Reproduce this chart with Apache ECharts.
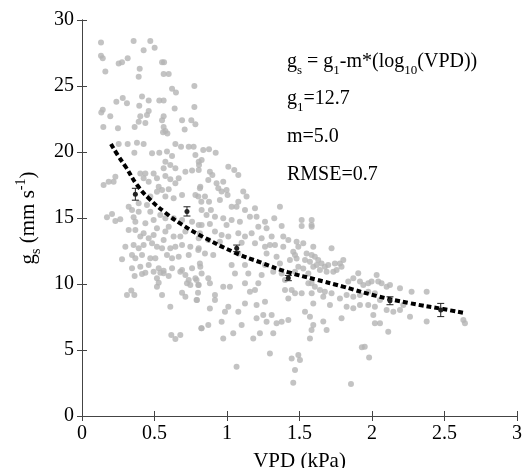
<!DOCTYPE html>
<html><head><meta charset="utf-8">
<script src="https://cdn.jsdelivr.net/npm/echarts@6/dist/echarts.min.js"></script>
<style>html,body{margin:0;padding:0;background:#fff}#c{width:524px;height:468px}</style>
</head><body><div id="c"></div>
<script>
// Observed data points [VPD (kPa), gs (mm s-1)]
const scatterPoints = [
[0.131,28.3],[0.356,28.4],[0.471,28.4],[0.425,27.7],[0.501,27.9],[0.131,27.3],[0.143,27.1],[0.253,26.7],[0.276,26.8],[0.315,27.1],[0.552,26.8],[0.566,26.8],[0.398,26.3],[0.161,26.1],[0.391,25.7],[0.563,25.9],[0.598,25.9],[0.621,24.8],[0.648,24.5],[0.775,25.0],[0.281,24.1],[0.237,23.8],[0.310,23.7],[0.414,24.2],[0.460,23.9],[0.533,23.9],[0.563,23.9],[0.395,23.5],[0.143,23.2],[0.133,23.0],[0.195,22.7],[0.639,23.3],[0.775,23.4],[0.460,23.1],[0.448,22.8],[0.402,22.7],[0.391,22.3],[0.437,22.2],[0.563,22.7],[0.552,22.4],[0.690,22.4],[0.754,22.4],[0.782,22.1],[0.147,21.9],[0.248,21.8],[0.363,21.9],[0.563,21.9],[0.575,21.6],[0.559,21.5],[0.589,21.4],[0.708,21.7],[0.253,20.6],[0.315,20.6],[0.379,20.7],[0.425,20.6],[0.644,20.6],[0.683,20.4],[0.736,20.4],[0.770,20.4],
[0.361,19.95],[0.483,19.9],[0.533,19.95],[0.586,20.03],[0.621,19.7],[0.782,19.77],[0.805,19.27],[0.575,19.27],[0.609,19.02],[0.563,18.76],[0.644,18.76],[0.713,18.51],[0.759,18.59],[0.805,18.64],[0.23,18.13],[0.218,17.75],[0.184,17.75],[0.149,17.5],[0.402,18.38],[0.437,18.38],[0.494,18.38],[0.425,18.01],[0.46,17.75],[0.517,18.01],[0.575,18.18],[0.609,17.93],[0.667,18.01],[0.644,17.63],[0.529,17.37],[0.552,17.12],[0.598,17.17],[0.517,16.99],[0.471,16.62],[0.575,16.62],[0.632,16.49],[0.69,16.74],[0.782,16.74],[0.816,17.37],[0.823,16.24],[0.322,15.86],[0.448,15.99],[0.391,16.11],[0.172,15.05],[0.207,15.3],[0.23,14.77],[0.264,14.9],[0.345,15.61],[0.356,15.05],[0.391,15.48],[0.471,15.48],[0.494,14.85],[0.437,14.6],[0.54,15.23],[0.575,14.98],[0.598,14.34],[0.632,14.98],[0.69,14.85],[0.759,14.72],[0.805,14.47],[0.368,14.72],[0.322,14.09],[0.368,14.09],[0.402,13.59],[0.425,13.84],[0.46,13.46],[0.494,13.71],[0.517,14.22],[0.575,13.97],[0.563,13.33],[0.632,13.59],[0.678,13.59],[0.713,13.97],[0.805,13.46],[0.299,12.83],[0.356,12.96],[0.391,12.7],[0.425,12.96],[0.483,13.08],[0.517,12.83],[0.552,12.7],[0.609,12.7],[0.644,12.83],[0.69,12.96],[0.747,12.83],[0.805,12.7],[0.345,12.2],[0.368,11.95],[0.414,12.2],[0.471,11.95],[0.506,11.95],[0.586,12.2],[0.621,11.95],[0.667,12.07],[0.736,12.2],[0.276,11.87],[0.345,11.19],[0.402,11.31],[0.46,11.44],[0.529,11.19],[0.563,11.01],[0.621,11.19],[0.69,11.06],[0.759,11.19],[0.816,11.31],
[0.363,10.61],[0.414,10.76],[0.437,10.86],[0.494,10.93],[0.54,10.86],[0.563,10.81],[0.598,10.61],[0.517,10.43],[0.529,10.1],[0.517,9.8],[0.552,9.17],[0.678,10.93],[0.713,10.68],[0.736,10.3],[0.724,10.05],[0.747,9.92],[0.805,9.92],[0.782,10.43],[0.8,9.34],[0.793,8.79],[0.69,9.34],[0.713,9.04],[0.609,8.28],[0.31,9.17],[0.34,9.5],[0.361,9.17],[0.616,6.14],[0.644,5.83],[0.678,6.14],[0.823,6.64],
[0.836,20.15],[0.876,20.2],[0.922,19.95],[0.825,19.39],[0.807,19.02],[0.882,18.51],[0.899,18.26],[0.871,17.88],[0.928,17.63],[0.974,17.75],[1.009,18.89],[1.05,18.64],[1.078,18.26],[0.94,17.25],[0.963,17.0],[0.997,17.12],[1.004,16.74],[0.951,16.36],[0.813,17.25],[0.802,16.62],[0.848,16.62],[0.876,16.24],[0.825,15.61],[0.889,15.61],[0.859,15.23],[0.917,15.1],[0.974,14.98],[1.032,15.86],[1.066,15.86],[1.112,17.0],[1.135,16.62],[1.078,16.24],[1.124,15.61],[1.193,15.73],[1.365,15.86],[1.032,14.85],[1.089,14.72],[0.825,14.47],[0.882,14.55],[0.813,13.84],[0.997,14.47],[1.158,15.1],[1.204,15.1],[1.262,14.72],[1.326,14.98],[1.377,14.39],[1.216,14.34],[1.273,14.22],[1.388,13.59],[1.515,14.85],[1.515,14.39],[1.584,14.85],[1.584,14.34],[1.078,13.84],[1.124,13.59],[1.17,13.84],[1.239,13.46],[1.308,13.59],[1.423,13.33],[1.48,13.21],[1.526,13.08],[1.595,12.83],[0.917,13.97],[0.963,13.71],[1.009,13.59],[0.871,13.33],[0.951,13.21],[1.101,13.13],[1.193,13.08],[1.262,12.83],[1.331,12.96],
[0.802,12.57],[0.848,12.32],[0.905,12.19],[0.813,11.56],[0.825,10.8],[0.79,10.3],[0.802,9.92],[0.871,10.43],[0.882,10.05],[0.79,8.78],[0.917,9.16],[0.917,8.78],[0.882,8.15],[0.974,9.8],[1.02,9.8],[1.032,11.44],[1.055,10.8],[1.078,12.32],[1.124,11.44],[1.147,10.8],[1.124,10.05],[1.158,9.42],[1.193,9.54],[1.216,10.05],[1.239,10.68],[1.262,11.44],[1.273,12.32],[1.296,12.95],[1.388,12.82],[1.342,12.07],[1.365,11.56],[1.319,10.93],[1.377,10.8],[1.4,10.3],[1.469,12.19],[1.492,12.82],[1.538,11.81],[1.572,11.69],[1.492,11.31],[1.561,10.05],[1.4,9.54],[1.446,9.54],[1.423,8.91],[1.469,9.29],[1.515,9.29],[1.584,9.29],[1.124,8.53],[1.204,8.4],[1.262,8.66],[1.009,8.28],[0.986,7.9],[1.078,7.9],[1.204,7.4],[1.25,7.65],[1.273,7.14],[1.308,7.65],[1.342,7.02],[1.377,7.14],[1.423,7.27],[1.538,7.9],[1.572,7.52],[1.595,6.89],[0.825,6.64],[0.871,6.89],[0.963,7.14],[0.974,5.88],[1.043,6.26],[1.101,6.89],[1.181,5.88],[1.227,6.26],[1.319,6.26],[1.296,4.74],[1.066,3.73],[1.446,4.36],[1.492,4.62],[1.503,4.24],[1.469,3.48],[1.457,2.52],[1.572,5.88],
[1.457,12.45],[1.48,11.94],[1.549,12.32],[1.584,12.19],[1.595,11.31],[1.526,11.18],[1.561,10.8],[1.469,10.93],[1.434,11.81],
[1.583,14.47],[1.721,12.7],[1.606,12.07],[1.629,11.82],[1.652,11.56],[1.675,11.31],[1.618,11.44],[1.641,11.06],[1.687,10.93],[1.698,11.44],[1.744,11.56],[1.779,11.56],[1.79,11.31],[1.802,11.82],[1.756,11.06],[1.733,10.93],[1.583,10.05],[1.606,9.8],[1.641,9.55],[1.675,9.42],[1.721,9.29],[1.664,9.04],[1.595,8.53],[1.71,8.41],[1.779,8.91],[1.825,9.17],[1.836,10.18],[1.871,10.43],[1.905,10.81],[1.917,10.18],[1.94,9.92],[1.974,10.05],[1.997,10.18],[2.032,10.68],[2.043,10.18],[2.066,10.05],[2.101,9.8],[2.124,9.92],[2.193,9.67],[2.273,9.42],[2.377,9.42],[1.871,9.04],[1.917,9.17],[1.974,9.42],[2.02,9.29],[2.055,8.79],[1.825,8.28],[1.871,8.16],[1.917,8.41],[1.974,8.41],[2.02,8.28],[2.101,8.03],[2.147,7.9],[2.193,8.03],[2.216,8.41],[2.262,7.52],[2.377,7.15],[2.009,7.65],[2.02,7.02],[2.055,7.02],[2.112,6.39],[1.79,7.4],[1.664,7.15],[1.687,6.51],[1.583,6.51],[2.63,7.27],[2.641,7.02],
[1.93,5.2],[1.95,5.25],[1.98,4.44],[1.855,2.42]
];

// Fitted curve
const curveX = [0.20,0.25,0.30,0.38,0.46,0.575,0.69,0.83,1.05,1.24,1.42,1.61,1.80,2.03,2.26,2.49,2.64];
const curveY = [20.6,19.7,18.9,17.5,16.5,15.4,14.5,13.6,12.4,11.6,10.9,10.35,9.8,9.1,8.55,8.1,7.8];

// Binned means with error bars
const errX = [0.368,0.724,1.067,1.423,2.124,2.474];
const errMean = [16.8,15.5,12.7,10.45,8.73,8.03];
const errHalf = [0.45,0.35,0.25,0.2,0.3,0.5];

const xMin = 0, xMax = 3, xInterval = 0.5;
const yMin = 0, yMax = 30, yInterval = 5;

const FONT = '"Liberation Serif", "Times New Roman", serif';
const axisColor = '#444';

const chart = echarts.init(document.getElementById('c'), null, {renderer: 'canvas'});

function axisBase(extra) {
  return Object.assign({
    type: 'value',
    axisLine: {show: true, lineStyle: {color: axisColor, width: 1}},
    axisTick: {show: true, inside: true, length: 5, lineStyle: {color: axisColor}},
    splitLine: {show: false}
  }, extra);
}

const subStyle = {fontSize: 13, fontFamily: FONT, color: '#000', padding: [17, 0, 0, 0]};

chart.setOption({
  animation: false,
  backgroundColor: '#fff',
  grid: {left: 82, right: 7, top: 20, bottom: 52, containLabel: false, outerBoundsMode: 'none'},
  xAxis: [
    axisBase({min: xMin, max: xMax, interval: xInterval, position: 'bottom',
      name: 'VPD (kPa)', nameLocation: 'middle', nameGap: 35,
      nameTextStyle: {fontSize: 21, fontFamily: FONT, color: '#000'},
      axisLabel: {fontSize: 20, fontFamily: FONT, color: '#000', margin: 8}}),
    axisBase({min: xMin, max: xMax, interval: xInterval, position: 'top', axisLabel: {show: false}})
  ],
  yAxis: [
    axisBase({min: yMin, max: yMax, interval: yInterval, position: 'left',
      name: 'g{sub|s} (mm s{sup|-1})', nameLocation: 'middle', nameGap: 38,
      nameTextStyle: {fontSize: 21, fontFamily: FONT, color: '#000',
        rich: {sub: {fontSize: 14, fontFamily: FONT, color: '#000', padding: [16,0,0,0]},
               sup: {fontSize: 14, fontFamily: FONT, color: '#000', padding: [0,0,14,0]}}},
      axisLabel: {fontSize: 20, fontFamily: FONT, color: '#000', margin: 8}}),
    axisBase({min: yMin, max: yMax, interval: yInterval, position: 'right', axisLabel: {show: false}})
  ],
  graphic: [
    {type: 'text', x: 287, y: 62, style: {text: 'g{s|s} = g{s|1}-m*(log{s|10}(VPD))', fontSize: 20, fontFamily: FONT, fill: '#000', verticalAlign: 'middle', rich: {s: subStyle}}},
    {type: 'text', x: 287, y: 99, style: {text: 'g{s|1}=12.7', fontSize: 20, fontFamily: FONT, fill: '#000', verticalAlign: 'middle', rich: {s: subStyle}}},
    {type: 'text', x: 287, y: 137, style: {text: 'm=5.0', fontSize: 20, fontFamily: FONT, fill: '#000', verticalAlign: 'middle'}},
    {type: 'text', x: 287, y: 175, style: {text: 'RMSE=0.7', fontSize: 20, fontFamily: FONT, fill: '#000', verticalAlign: 'middle'}}
  ],
  series: [
    {type: 'scatter', data: scatterPoints, symbol: 'circle', symbolSize: 6,
      itemStyle: {color: '#b4b4b4'}, z: 2},
    {type: 'line', data: curveX.map((x, i) => [x, curveY[i]]), smooth: true, symbol: 'none',
      lineStyle: {color: '#000', width: 4, type: [5, 3]}, z: 3},
    {type: 'custom', z: 4,
      data: errX.map((x, i) => [x, errMean[i], errHalf[i]]),
      renderItem: function (params, api) {
        const x = api.value(0), m = api.value(1), h = api.value(2);
        const c = api.coord([x, m]);
        const t = api.coord([x, m + h]);
        const b = api.coord([x, m - h]);
        const w = 3.5;
        const st = {stroke: '#222', lineWidth: 1};
        return {type: 'group', children: [
          {type: 'line', shape: {x1: c[0], y1: t[1], x2: c[0], y2: b[1]}, style: st},
          {type: 'line', shape: {x1: c[0] - w, y1: t[1], x2: c[0] + w, y2: t[1]}, style: st},
          {type: 'line', shape: {x1: c[0] - w, y1: b[1], x2: c[0] + w, y2: b[1]}, style: st},
          {type: 'circle', shape: {cx: c[0], cy: c[1], r: 2.5}, style: {fill: '#222'}}
        ]};
      }}
  ]
});
</script>
</body></html>
